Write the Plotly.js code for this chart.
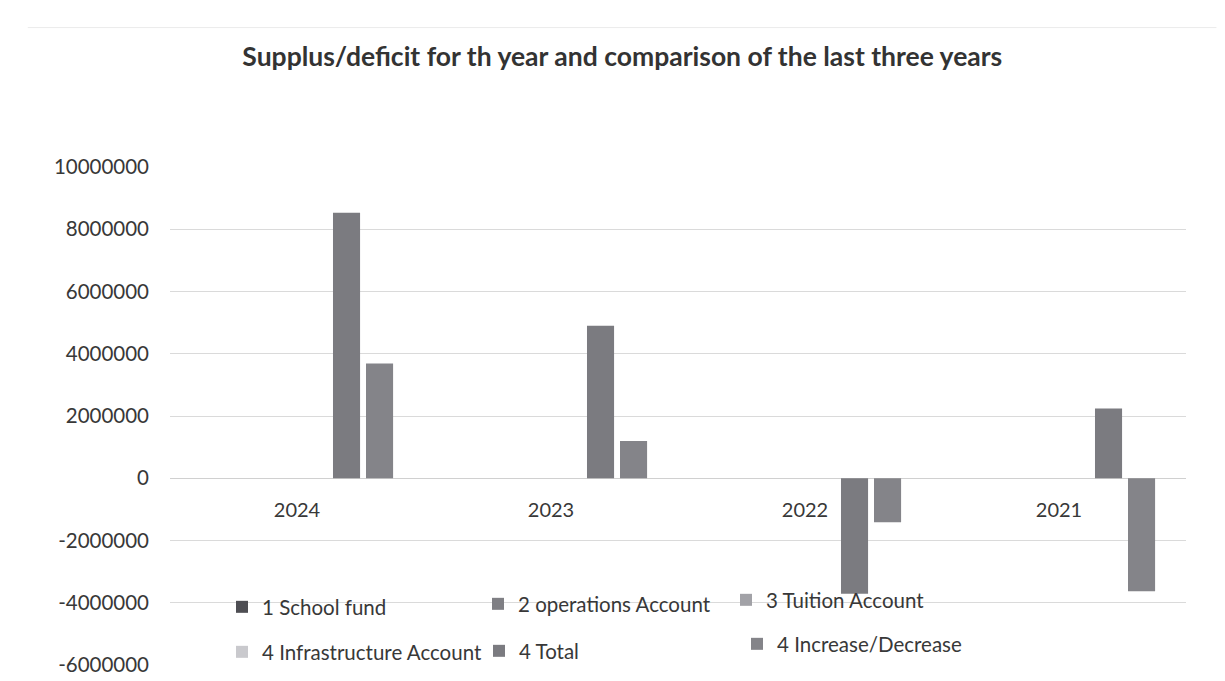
<!DOCTYPE html>
<html>
<head>
<meta charset="utf-8">
<script src="https://cdn.plot.ly/plotly-3.0.1.min.js"></script>
<style>
html,body{margin:0;padding:0;background:#ffffff;}
#chart{width:1225px;height:681px;}
</style>
</head>
<body>
<div id="chart"></div>
<script>
// ---- data ----
const categories = ["2024", "2023", "2022", "2021"];
const seriesNames = ["1 School fund", "2 operations Account", "3 Tuition Account",
                     "4 Infrastructure Account", "4 Total", "4 Increase/Decrease"];
const schoolFund      = [null, null, null, null];
const operations      = [null, null, null, null];
const tuition         = [null, null, null, null];
const infrastructure  = [null, null, null, null];
const total           = [8530000, 4900000, -3710000, 2240000];
const increaseDecrease= [3690000, 1200000, -1410000, -3630000];
const yTicks = [-6000000, -4000000, -2000000, 0, 2000000, 4000000, 6000000, 8000000, 10000000];

// ---- styling ----
const colors = ["#4e4e53", "#7f7f84", "#a2a2a7", "#c9c9cd", "#7b7b80", "#848489"];
const allSeries = [schoolFund, operations, tuition, infrastructure, total, increaseDecrease];
// legend anchor positions in container pixels (layout only)
const legendPos = [[222, 607], [478, 604], [726, 600], [222, 652], [479, 651], [737, 644]];
const W = 1225, H = 681;

const traces = allSeries.map((vals, i) => ({
  type: "bar",
  name: seriesNames[i],
  x: categories,
  y: vals,
  marker: {color: colors[i]},
  showlegend: true,
  legend: i === 0 ? "legend" : "legend" + (i + 1),
  hoverinfo: "x+y+name"
}));

const font = "Lato, 'Open Sans', 'Liberation Sans', sans-serif";
const layout = {
  width: W, height: H,
  paper_bgcolor: "#ffffff",
  plot_bgcolor: "#ffffff",
  showlegend: true,
  margin: {l: 170, r: 39, t: 167, b: 16, autoexpand: false},
  barmode: "group",
  bargap: 0.22,
  bargroupgap: 0.18,
  title: {
    text: "Supplus/deficit for th year and comparison of the last three years",
    font: {family: font, size: 26.5, color: "#333333", weight: "bold"},
    xref: "container", yref: "container",
    x: 0.508, xanchor: "center", y: 0.916, yanchor: "middle"
  },
  xaxis: {
    type: "category",
    range: [-0.5, 3.5],
    anchor: "free",
    position: 0.375,
    showgrid: false,
    showline: false,
    ticks: "",
    ticklabelstandoff: 18,
    tickfont: {family: font, size: 20, color: "#383838"},
    fixedrange: true
  },
  yaxis: {
    range: [-6000000, 10000000],
    tickvals: yTicks,
    ticktext: yTicks.map(v => String(v)),
    showgrid: true,
    gridcolor: "#dadada",
    gridwidth: 1,
    zeroline: true,
    zerolinecolor: "#d0d0d0",
    zerolinewidth: 1,
    showline: false,
    ticks: "",
    ticklabelstandoff: 20,
    tickfont: {family: font, size: 20.5, color: "#383838"},
    fixedrange: true
  },
  shapes: [
    {type: "line", xref: "paper", yref: "paper", x0: -0.14, x1: 1.03, y0: 1.28, y1: 1.28,
     line: {color: "#ececec", width: 1}}
  ]
};

legendPos.forEach((p, i) => {
  const key = i === 0 ? "legend" : "legend" + (i + 1);
  layout[key] = {
    visible: true,
    xref: "container", yref: "container",
    x: p[0] / W, y: 1 - p[1] / H,
    xanchor: "left", yanchor: "middle",
    orientation: "h",
    bgcolor: "rgba(0,0,0,0)",
    borderwidth: 0,
    itemwidth: 30,
    font: {family: font, size: 20.5, color: "#383838"}
  };
});

Plotly.newPlot("chart", traces, layout, {displayModeBar: false, staticPlot: true});
</script>
</body>
</html>
